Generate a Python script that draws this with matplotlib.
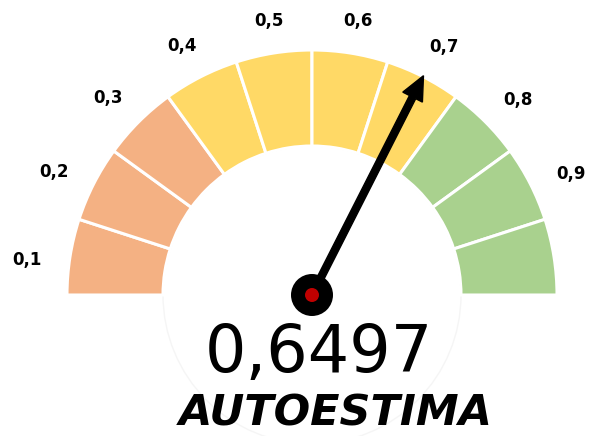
import numpy as np
import matplotlib.pyplot as plt
from matplotlib.patches import Wedge, Circle, FancyArrow

# gauge scale: 10 bands from 0 to 1
band_edges = np.linspace(0, 1, 11)
band_colors = ['#F4B183'] * 3 + ['#FFD966'] * 4 + ['#A9D18E'] * 3
tick_labels = ['0,1', '0,2', '0,3', '0,4', '0,5', '0,6', '0,7', '0,8', '0,9']
value = 0.6497
title = 'AUTOESTIMA'

r_out, r_in = 245, 149

fig = plt.figure(figsize=(5.92, 4.36), dpi=100)
ax = fig.add_axes([0, 0, 1, 1])
ax.set_xlim(-312, 280)
ax.set_ylim(-141, 295)
ax.set_aspect('equal')
ax.axis('off')


def to_angle(v):
    return 180 - 180 * v


# faint circle around the hub area
ax.add_patch(Circle((0, 0), r_in, fill=False, ec='#f5f5f5', lw=1, zorder=1))

for lo, hi, col in zip(band_edges[:-1], band_edges[1:], band_colors):
    ax.add_patch(Wedge((0, 0), r_out, to_angle(hi), to_angle(lo), width=r_out - r_in,
                       fc=col, ec='white', lw=2.2, zorder=2))

# labels sit beside each band
for i, lab in enumerate(tick_labels):
    a = np.radians(173 - 18.5 * i)
    r = 276 + 11 * abs(np.cos(a))
    ax.text(r * np.cos(a), r * np.sin(a), lab, ha='center', va='center',
            fontsize=12, fontweight='bold', color='black', zorder=3)

# needle
a = np.radians(to_angle(value))
L = 246
ax.add_patch(FancyArrow(0, 0, L * np.cos(a), L * np.sin(a), width=7, head_width=22,
                        head_length=24, length_includes_head=True,
                        fc='black', ec='black', zorder=4))
ax.add_patch(Circle((0, 0), 21, fc='black', zorder=5))
ax.add_patch(Circle((0, 0), 7, fc='#C00000', zorder=6))

ax.text(7, -77, f'{value:.4f}'.replace('.', ','), ha='center', va='baseline',
        fontsize=47, color='black', zorder=3)
ax.text(24, -131, title, ha='center', va='baseline', fontsize=31,
        fontstyle='italic', fontweight='bold', color='black', zorder=3)

fig.savefig('out.png', dpi=100)
